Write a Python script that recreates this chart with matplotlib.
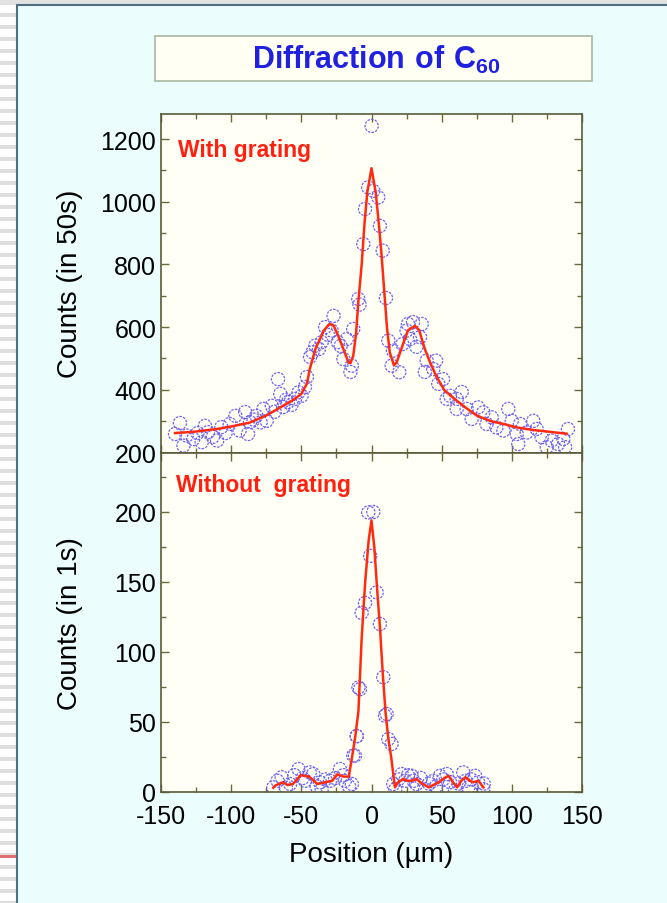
import matplotlib
matplotlib.use("Agg")
import matplotlib.pyplot as plt
from matplotlib.patches import Rectangle
from matplotlib.ticker import MultipleLocator

plt.rcParams['font.family'] = ['Liberation Sans', 'DejaVu Sans']
plt.rcParams['mathtext.fontset'] = 'custom'
plt.rcParams['mathtext.bf'] = 'Liberation Sans:bold'
plt.rcParams['mathtext.rm'] = 'Liberation Sans'
plt.rcParams['axes.unicode_minus'] = False

# With grating (counts in 50 s)
top_x = [-140, -136.5, -134, -131.7, -127, -124, -121, -118.7, -116.5, -113, -110, -107, -104,
         -101, -97, -94, -90, -88, -86.6, -84, -82, -79, -77, -74.7, -71, -69, -66.6, -65, -63,
         -61, -59.5, -57, -54.5, -52, -49.8, -47.4, -46, -43.8, -42, -40, -37.5, -35.5, -33, -31,
         -28.4, -27, -24, -22, -20, -17.6, -15, -14, -13, -9.4, -8.5, -5.8, -4.6, -2.3, 0.1, 1.3,
         4.8, 6, 8, 10.3, 12, 14.4, 15.3, 19.8, 22, 25, 26, 27.4, 29.6, 32, 34.6, 35.8, 38, 39.3,
         44, 46, 47.6, 51, 53.6, 56, 60.7, 60.7, 64.3, 67.8, 71.4, 76, 79.7, 82, 85.7, 89, 94,
         97.5, 99.9, 103.5, 104.6, 105.8, 110.6, 115.3, 117.7, 121.3, 124.9, 128.4, 133, 136.7,
         138, 140]
top_y = [259, 294, 222, 254, 243, 262, 233, 285, 265, 250, 238, 281, 262,
         291, 317, 270, 329, 259, 297, 305, 317, 296, 339, 301, 349, 330, 434, 387, 345,
         368, 361, 352, 371, 392, 381, 409, 441, 505, 520, 541, 530, 552, 600, 575,
         589, 636, 552, 540, 498, 562, 457, 477, 594, 690, 672, 865, 977, 1046, 1242, 1035,
         1014, 923, 844, 693, 557, 477, 525, 456, 546, 589, 610, 562, 616, 537, 568, 610, 457, 493,
         466, 493, 419, 434, 371, 381, 371, 339, 393, 339, 307, 344, 328, 291, 312, 280, 270,
         339, 301, 259, 227, 291, 264, 301, 275, 249, 217, 238, 227, 243,
         217, 275]

top_fit_x = [-140, -127, -110, -100, -87, -75, -63, -55, -50, -46, -44, -40, -34, -30, -27, -24,
             -20, -16.5, -15, -13, -11, -9.4, -7, -5, -3, 0, 3, 5, 7, 9, 11, 13, 16, 18, 22, 26,
             31, 34, 38, 41.7, 46, 52, 60, 68, 75, 85, 95, 103.5, 115, 125, 139]
top_fit_y = [262, 266, 275, 283, 295, 318, 349, 370, 387, 420, 466, 530, 589, 610, 605, 575,
             530, 488, 485, 509, 580, 680, 800, 930, 1030, 1107, 1030, 940, 840, 720, 600, 520, 478, 488, 540, 590,
             604, 590, 530, 488, 445, 398, 368, 340, 318, 300, 290, 280, 272, 267, 260]

# Without grating (counts in 1 s)
bot_x = [-70, -67, -64, -61, -58, -55, -52, -49, -47.4, -44, -41.5, -39, -36.7, -35.5, -33, -29.6,
         -26, -22.5, -20, -19, -16, -14, -13, -11.8, -10.5, -10.5, -9.3, -8.2, -7, -4.6, -1, -2.3,
         1.3, 3.7, 6, 8.4, 9.6, 10.8, 12, 14.3, 15.5, 17, 19, 21.5, 24, 26, 28.6, 30, 32, 35,
         38.3, 41, 44, 46, 48.8, 51, 53.6, 56, 59.5, 62, 65.4, 67, 69, 71, 73.8, 76, 79.7, 80]
bot_y = [3.3, 8, 10.5, 3, 5.7, 12, 16.4, 10, 8, 14, 12.8, 4, 6.9, 2, 9, 8,
         10, 16.4, 12, 8, 4, 5.7, 26, 26, 40, 39.8, 74.7, 73.5, 128, 135, 168.7, 199.7,
         200, 142.6, 120, 82, 54.5, 55.7, 37.8, 34.3, 5.7, 2, 9, 12.8, 8, 12, 11.6, 8, 5.7, 10,
         2, 6, 8, 4, 11.6, 9, 12.8, 7, 1, 6, 14, 8, 3.3, 9, 11.6, 7, 2, 6]

bot_fit_x = [-70, -68.8, -63, -60, -56, -50.5, -44.5, -41, -38.6, -32.7, -28, -24.5, -20, -16.2,
             -14, -11.5, -9.3, -7, -4.5, -2, 0, 2, 4, 6, 8, 10, 12, 14, 16.7, 19, 22.7, 25, 28.6,
             32, 36, 41, 44, 48, 52, 55, 58, 61, 64, 66.9, 70, 72.7, 76.2, 79.7]
bot_fit_y = [3, 4.5, 7, 5, 5.7, 12, 11, 8, 5.7, 7, 8, 12.6, 11, 11,
             24, 40, 58, 110, 150, 180, 194, 175, 145, 118, 85, 57, 38, 25, 3.3, 7, 9.3, 8, 8,
             9.3, 6, 3.3, 5, 7, 10, 11.6, 7, 3.3, 8, 10.5, 8, 7, 8, 3.3]

W, H = 667, 904
fig = plt.figure(figsize=(W / 100, H / 100), dpi=100)
fig.patch.set_facecolor('white')


def box(x0, y0, x1, y1, **kw):
    # rectangle given in pixel coordinates (top-left origin)
    r = Rectangle((x0 / W, 1 - y1 / H), (x1 - x0) / W, (y1 - y0) / H,
                  transform=fig.transFigure, **kw)
    fig.add_artist(r)


# slide background: striped margin and cyan panel (kept behind the axes)
for yy in range(2, H, 12):
    box(0, yy, 17, yy + 4, facecolor='#dedede', edgecolor='none', zorder=-10)
box(0, 0, W, 5, facecolor='#e2e2e2', edgecolor='none', zorder=-10)
box(0, 856, 17, 859, facecolor='#e07070', edgecolor='none', zorder=-10)
box(17, 6, W + 2, H + 2, facecolor='#ebfdfd', edgecolor='#4e6e82', linewidth=1.5, zorder=-9)

# title box
box(155, 37, 592, 82, facecolor='#fffff4', edgecolor='#a8b8a0', linewidth=1.2, zorder=-8)
fig.text(376 / W, 1 - 60 / H, r'$\mathbf{Diffraction\ of\ C_{60}}$', color='#2020e0',
         fontsize=22, ha='center', va='center')

ax_left = 161 / W
ax_w = 421 / W
ax1 = fig.add_axes([ax_left, 1 - 453.5 / H, ax_w, 338.5 / H])
ax2 = fig.add_axes([ax_left, 1 - 793 / H, ax_w, 339.5 / H])

circ = dict(s=90, facecolors='none', edgecolors='#6e62f0', linewidths=0.9,
            linestyles=(0, (2, 1)), zorder=2)
fit = dict(color='#ff2a10', linewidth=1.8, zorder=3)

ax1.scatter(top_x, top_y, **circ)
ax1.plot(top_fit_x, top_fit_y, **fit)
ax2.scatter(bot_x, bot_y, **circ)
ax2.plot(bot_fit_x, bot_fit_y, **fit)

ax1.set_ylim(200, 1280)
ax2.set_ylim(0, 242.5)
ax1.yaxis.set_major_locator(MultipleLocator(200))
ax1.yaxis.set_minor_locator(MultipleLocator(100))
ax2.yaxis.set_major_locator(MultipleLocator(50))
ax2.yaxis.set_minor_locator(MultipleLocator(25))

for ax in (ax1, ax2):
    ax.set_xlim(-150, 150)
    ax.xaxis.set_major_locator(MultipleLocator(50))
    ax.xaxis.set_minor_locator(MultipleLocator(25))
    ax.set_facecolor('#fffff6')
    for sp in ax.spines.values():
        sp.set_color('#5a5a3a')
        sp.set_linewidth(1.2)
    ax.tick_params(which='both', direction='in', top=True, right=True, color='#6a6a3a',
                   labelsize=18)
    ax.tick_params(which='major', length=6, width=1)
    ax.tick_params(which='minor', length=3.5, width=1)

ax1.tick_params(labelbottom=False)
ax2.tick_params(axis='x', pad=9)
ax1.set_ylabel('Counts (in 50s)', fontsize=20)
ax2.set_ylabel('Counts (in 1s)', fontsize=20)
ax2.set_xlabel('Position (\u00b5m)', fontsize=20, labelpad=9)
ax1.yaxis.set_label_coords(-0.185, 0.5)
ax2.yaxis.set_label_coords(-0.185, 0.5)

ax1.text(0.04, 0.895, 'With grating', transform=ax1.transAxes, color='#ff2010',
         fontsize=16.5, fontweight='bold', va='center', ha='left')
ax2.text(0.036, 0.905, 'Without  grating', transform=ax2.transAxes, color='#ff2010',
         fontsize=16.5, fontweight='bold', va='center', ha='left')

fig.savefig('out.png', dpi=100, facecolor=fig.get_facecolor())
